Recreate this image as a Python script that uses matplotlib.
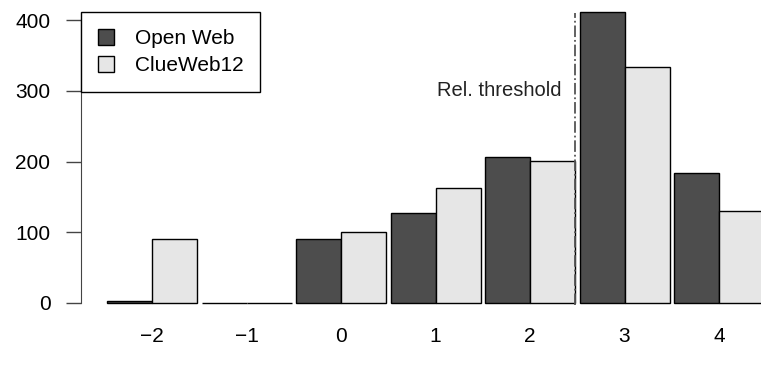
import matplotlib.pyplot as plt
import numpy as np

# data
grades = ['\u22122', '\u22121', '0', '1', '2', '3', '4']
open_web = [3, 0, 90, 127, 206, 412, 184]
clueweb12 = [91, 0, 101, 162, 201, 334, 130]
series_names = ['Open Web', 'ClueWeb12']
threshold_before = 5  # threshold drawn just before group "3"

# styles
dark_color = '#4d4d4d'
light_color = '#e6e6e6'
font_size = 15
plt.rcParams['font.family'] = ['Liberation Sans', 'DejaVu Sans']

W, H = 761, 368
fig = plt.figure(figsize=(W / 100, H / 100), dpi=100)
# axes placed in pixels: left spine at x=81, y=0 at 303px, y=400 at 20px
px_per_unit = (303 - 20) / 400
bottom_px, top_px = 305, 5
ax = fig.add_axes([81 / W, (H - bottom_px) / H, (W - 81) / W, (bottom_px - top_px) / H])

# R barplot style layout: bar width 1, space 0.1 between groups
group_step = 2.1
idx = np.arange(len(grades))
left_open = 0.1 + group_step * idx
ax.bar(left_open, open_web, width=1, align='edge', color=dark_color,
       edgecolor='black', linewidth=1, label=series_names[0])
ax.bar(left_open + 1, clueweb12, width=1, align='edge', color=light_color,
       edgecolor='black', linewidth=1, label=series_names[1])

x_unit_px = 45.0
x0_px = 102.5
ax.set_xlim((81 - x0_px) / x_unit_px, (W - x0_px) / x_unit_px)
ax.set_ylim((303 - bottom_px) / px_per_unit, (303 - top_px) / px_per_unit)

# relevance threshold
thr_x = 0.1 + group_step * threshold_before - 0.1
ax.axvline(thr_x, color='#555555', linestyle='-.', linewidth=1.3, ymin=0, ymax=0.975)
ax.text(thr_x - 0.3, 301, 'Rel. threshold', ha='right', va='center', fontsize=font_size - 0.5,
        color='#222222')

# axes styling like base R
for s in ['top', 'right', 'bottom']:
    ax.spines[s].set_visible(False)
ax.spines['left'].set_bounds(0, 400)
ax.spines['left'].set_color('#444444')
ax.set_yticks([0, 100, 200, 300, 400])
ax.tick_params(axis='y', length=11, width=1, pad=11, labelsize=font_size, color='#444444')
ax.set_xticks(left_open + 1)
ax.set_xticklabels(grades)
ax.tick_params(axis='x', length=0, pad=16, labelsize=font_size)

leg = ax.legend(loc='upper left', bbox_to_anchor=(81 / W, 1 - 12 / H),
                bbox_transform=fig.transFigure, borderaxespad=0, fancybox=False,
                fontsize=font_size, handlelength=0.8, handleheight=0.8,
                handletextpad=1.0, borderpad=0.8, labelspacing=0.4)
leg.get_frame().set_edgecolor('black')
leg.get_frame().set_linewidth(1)
leg.get_frame().set_alpha(1)
leg.set_zorder(5)

fig.savefig('out.png', dpi=100)
